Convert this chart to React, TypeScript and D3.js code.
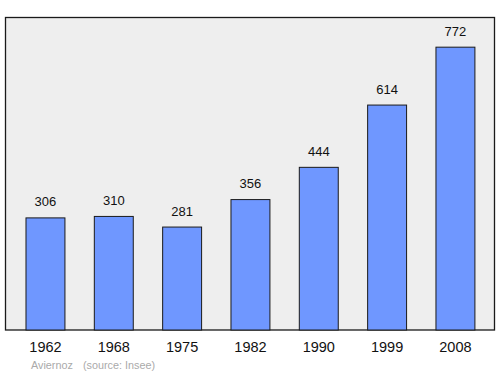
import React from "react";
import * as d3 from "d3";

const years = ["1962", "1968", "1975", "1982", "1990", "1999", "2008"];
const population = [306, 310, 281, 356, 444, 614, 772];
const commune = "Aviernoz";
const source = "(source: Insee)";

const W = 500, H = 374;
const box = { left: 5.5, right: 494.5, top: 17.5, bottom: 330 };

export default function App() {
  const x = d3.scaleBand<string>().domain(years).range([11.3, 489.6]).paddingInner(0).paddingOuter(0);
  const y = d3.scaleLinear().domain([0, 853]).range([box.bottom, box.top]);
  const bw = x.bandwidth() * 0.57;
  const font = "'Liberation Sans', Arial, sans-serif";
  return (
    <svg width={W} height={H} style={{ position: "absolute", left: 0, top: 0 }} fontFamily={font}>
      <rect x={0} y={0} width={W} height={H} fill="#ffffff" />
      <rect x={box.left} y={box.top} width={box.right - box.left} height={box.bottom - box.top} fill="#eeeeee" stroke="#1a1a1a" strokeWidth={1.3} />
      {years.map((yr, i) => {
        const cx = (x(yr) as number) + x.bandwidth() / 2;
        const top = y(population[i]);
        return (
          <g key={yr}>
            <rect x={cx - bw / 2} y={top} width={bw} height={box.bottom - top} fill="#6f97ff" stroke="#1a1a1a" strokeWidth={1} />
            <text x={cx} y={top - 11.5} textAnchor="middle" fontSize={13} fill="#111">{population[i]}</text>
            <text x={cx} y={352} textAnchor="middle" fontSize={14.5} fill="#111">{yr}</text>
          </g>
        );
      })}
      <text x={31} y={369} fontSize={10.8} fill="#aaaaaa">{commune}</text>
      <text x={83} y={369} fontSize={10.8} fill="#aaaaaa">{source}</text>
    </svg>
  );
}
